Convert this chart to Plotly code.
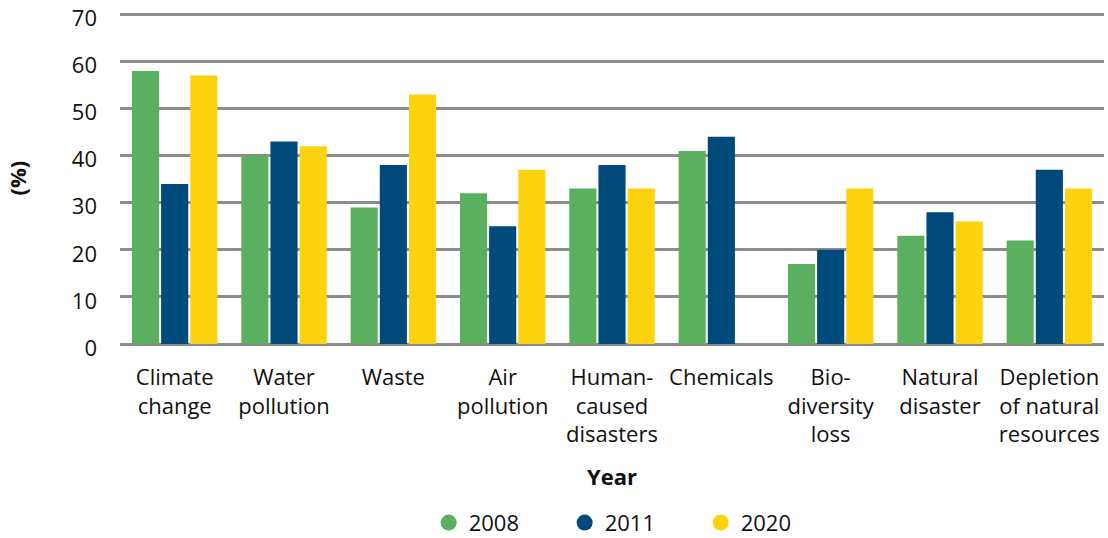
import plotly.graph_objects as go

categories = ["Climate<br>change", "Water<br>pollution", "Waste", "Air<br>pollution",
              "Human-<br>caused<br>disasters", "Chemicals", "Bio-<br>diversity<br>loss",
              "Natural<br>disaster", "Depletion<br>of natural<br>resources"]
v2008 = [58, 40, 29, 32, 33, 41, 17, 23, 22]
v2011 = [34, 43, 38, 25, 38, 44, 20, 28, 37]
v2020 = [57, 42, 53, 37, 33, None, 33, 26, 33]
series_names = ["2008", "2011", "2020"]
colors = ["#5AB05E", "#00497B", "#FDD20E"]
y_ticks = [0, 10, 20, 30, 40, 50, 60, 70]

FONT = "Open Sans"
fig = go.Figure()
for name, vals, col in zip(series_names, [v2008, v2011, v2020], colors):
    fig.add_trace(go.Bar(x=categories, y=vals, name=name, marker_color=col,
                         marker_line_width=0, showlegend=False))
for name, col in zip(series_names, colors):
    fig.add_trace(go.Scatter(x=[None], y=[None], mode="markers", name=name,
                             marker=dict(symbol="circle", size=17, color=col)))

fig.update_layout(
    width=1108, height=538,
    margin=dict(l=120, r=4, t=13, b=194, autoexpand=False),
    plot_bgcolor="white", paper_bgcolor="white",
    barmode="group", bargap=0.2, bargroupgap=0.07,
    font=dict(family=FONT, size=22, color="#111111"),
    showlegend=True,
    legend=dict(orientation="h", x=0.521, xanchor="center", y=-0.54, yanchor="middle",
                font=dict(size=22, color="#111111"), entrywidth=91, itemsizing="trace"),
    xaxis=dict(showgrid=False, showline=False, ticks="", ticklabelstandoff=18,
               automargin=False, tickfont=dict(size=22)),
    yaxis=dict(range=[0, 70.3], tickvals=y_ticks, showgrid=True, gridcolor="#8C8C8C",
               gridwidth=2.5, zeroline=True, zerolinecolor="#8C8C8C", zerolinewidth=2.5,
               showline=False, ticks="", ticklabelstandoff=22, ticklabelshift=4,
               automargin=False, ticklabeloverflow="allow", tickfont=dict(size=22)),
    annotations=[
        dict(text="<b>Year</b>", xref="paper", yref="paper", x=0.5, y=-0.40,
             xanchor="center", yanchor="middle", showarrow=False, font=dict(size=22)),
        dict(text="<b>(%)</b>", xref="paper", yref="paper", x=0, y=0.5, xshift=-104,
             xanchor="center", yanchor="middle", showarrow=False, textangle=-90,
             font=dict(size=22)),
    ],
)
fig.write_html("out.html")
